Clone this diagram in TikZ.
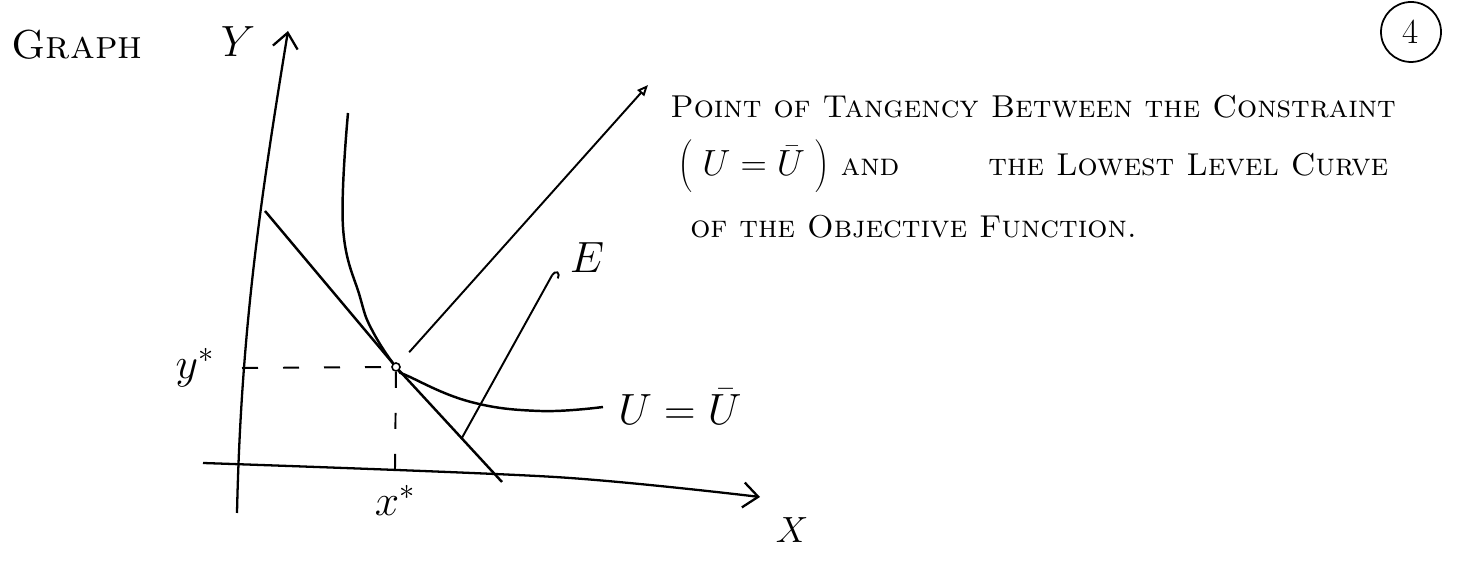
\documentclass[tikz,border=0pt]{standalone}
\usepackage{fontspec}
\usetikzlibrary{positioning,arrows.meta,calc}

\begin{document}
\begin{tikzpicture}[
        axis/.style={line width=1.3pt, -{Straight Barb[length=0.3cm,width=0.5cm]}},
        curve/.style={line width=1.4pt},
        guide/.style={line width=1.1pt, dash pattern=on 0.32cm off 0.5cm},
        pointer/.style={line width=1.1pt, -{Triangle[open,length=0.22cm,width=0.18cm]}},
        hookptr/.style={line width=1.1pt, -{Hooks[right,length=0.12cm,width=0.3cm]}},
        tpoint/.style={circle, draw, fill=white, line width=0.9pt, inner sep=0pt, minimum size=0.16cm},
        note/.style={anchor=west, inner sep=0pt, font=\fontsize{18}{22}\selectfont\scshape},
        lbl/.style={inner sep=0pt, font=\fontsize{24}{28}\selectfont}
    ]
        \useasboundingbox (0,0) rectangle (29.58,11.24);

        % axes
        \draw[axis] (4.74,0.98) .. controls (4.82,4.6) and (5.2,7.2) .. (5.76,10.62);
        \draw[axis] plot[smooth] coordinates {(4.06,1.98) (11.10,1.70) (15.20,1.30)};
        \node[lbl, font=\fontsize{28}{32}\selectfont] (ylab) at (4.76,10.40) {$Y$};
        \node[lbl, font=\fontsize{22}{26}\selectfont] (xlab) at (15.84,0.64) {$X$};

        % constraint and level curve
        \coordinate (tp) at (7.92,3.90);
        \coordinate (b0) at (5.30,7.02);
        \coordinate (b1) at (10.04,1.60);
        \coordinate (uend) at (12.06,3.10);
        \draw[curve] (b0) -- (tp) -- (b1);
        \draw[curve] plot[smooth, tension=0.7] coordinates {(6.96,8.98) (6.86,6.70) (7.20,5.30) (7.44,4.64) (7.92,3.90) (8.20,3.70) (9.42,3.20) (10.80,3.02) (12.06,3.10)};
        \node[tpoint] (T) at (tp) {};

        % optimum
        \coordinate (ystar) at (4.84,3.88);
        \coordinate (xstar) at (7.90,1.84);
        \draw[guide] (ystar) -- (T);
        \draw[guide] (T) -- (xstar);
        \node[lbl, left=0.55cm of ystar] (ylabel) {$y^*$};
        \node[lbl, below=0.3cm of xstar] (xlabel) {$x^*$};
        \node[lbl, font=\fontsize{30}{34}\selectfont, right=0.3cm of uend] (ulabel) {$U=\bar{U}$};

        % constraint label
        \coordinate (e0) at ($(tp)!0.62!(b1)$);
        \coordinate (etip) at (11.10,5.84);
        \draw[hookptr] (e0) -- (etip);
        \node[lbl, font=\fontsize{26}{30}\selectfont] (E) at (11.74,6.08) {$E$};

        % note
        \node[note] (l1) at (13.40,9.10) {Point of Tangency Between the Constraint};
        \node[note] (l2) at (13.56,7.88) {{\fontsize{22}{26}\selectfont$\left(\rule[-0.4cm]{0pt}{1.0cm}\;U=\bar{U}\;\right)$} and \hspace{1.3cm} the Lowest Level Curve};
        \node[note] (l3) at (13.80,6.70) {of the Objective Function.};
        \coordinate (ptip) at (12.96,9.54);
        \draw[pointer, shorten <=0.3cm] (T) -- (ptip);

        \node[font=\fontsize{23}{26}\selectfont\scshape] (title) at (1.54,10.34) {Graph};
        \node[circle, draw, line width=1pt, minimum size=1.2cm, font=\fontsize{20}{24}\selectfont] (page) at (28.22,10.60) {4};
    \end{tikzpicture}
\end{document}
